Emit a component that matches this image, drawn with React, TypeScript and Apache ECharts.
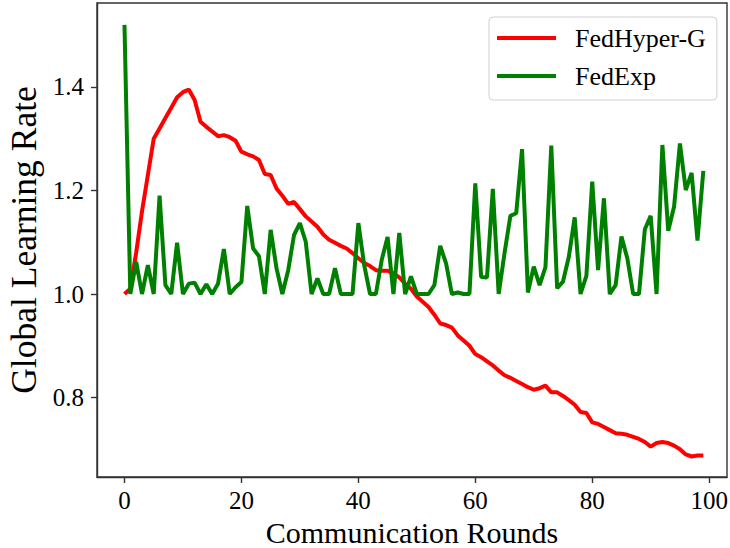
import React, { useEffect, useRef } from "react";
import * as echarts from "echarts";

const fedHyperG: number[] = [
  1.0, 1.01, 1.08, 1.16, 1.23, 1.3, 1.32, 1.34, 1.36, 1.38,
  1.39, 1.395, 1.375, 1.333, 1.323, 1.314, 1.305, 1.307, 1.303, 1.296,
  1.275, 1.27, 1.266, 1.259, 1.232, 1.23, 1.204, 1.19, 1.174, 1.178,
  1.164, 1.15, 1.14, 1.13, 1.115, 1.105, 1.099, 1.093, 1.088, 1.079,
  1.069, 1.06, 1.054, 1.046, 1.045, 1.045, 1.04, 1.032, 1.02, 1.01,
  0.995, 0.985, 0.975, 0.96, 0.943, 0.94, 0.935, 0.92, 0.91, 0.9,
  0.884, 0.878, 0.87, 0.862, 0.852, 0.843, 0.838, 0.832, 0.826, 0.82,
  0.815, 0.818, 0.823, 0.81, 0.81, 0.803, 0.795, 0.786, 0.772, 0.77,
  0.752, 0.749, 0.743, 0.737, 0.731, 0.73, 0.728, 0.724, 0.72, 0.714,
  0.705, 0.712, 0.714, 0.712, 0.707, 0.7, 0.69, 0.686, 0.688, 0.688,
];

const fedExp: number[] = [
  1.52, 1.0, 1.062, 1.0, 1.056, 1.0, 1.19, 1.017, 1.0, 1.099,
  1.0, 1.02, 1.022, 1.0, 1.019, 1.0, 1.02, 1.087, 1.0, 1.013,
  1.023, 1.17, 1.088, 1.073, 1.0, 1.124, 1.05, 1.0, 1.046, 1.114,
  1.137, 1.101, 1.0, 1.03, 1.0, 1.0, 1.05, 1.0, 1.0, 1.0,
  1.137, 1.056, 1.0, 1.0, 1.066, 1.11, 1.0, 1.118, 1.0, 1.034,
  1.0, 1.0, 1.0, 1.017, 1.093, 1.059, 1.0, 1.003, 1.0, 1.0,
  1.214, 1.033, 1.032, 1.203, 1.0, 1.079, 1.151, 1.156, 1.28, 1.003,
  1.053, 1.017, 1.052, 1.287, 1.011, 1.024, 1.072, 1.148, 1.0, 1.035,
  1.217, 1.046, 1.185, 1.0, 1.017, 1.111, 1.069, 1.0, 1.0, 1.125,
  1.151, 1.0, 1.288, 1.122, 1.169, 1.291, 1.201, 1.234, 1.103, 1.238,
];

const xTicks: number[] = [0, 20, 40, 60, 80, 100];
const yTicks: number[] = [0.8, 1.0, 1.2, 1.4];

const seriesNames = ["FedHyper-G", "FedExp"];
const xTitle = "Communication Rounds";
const yTitle = "Global Learning Rate";

const FONT = "Liberation Serif";

const tickRich = {
  t: { fontFamily: FONT, fontSize: 25, color: "#000" },
};

export default function App() {
  const ref = useRef<HTMLDivElement>(null);

  useEffect(() => {
    if (!ref.current) return;
    const chart = echarts.init(ref.current, undefined, { renderer: "svg" });
    const axisColor = "#333";
    chart.setOption({
      animation: false,
      backgroundColor: "#fff",
      textStyle: { fontFamily: FONT },
      grid: {
        left: 97,
        top: 3,
        width: 630,
        height: 474,
        show: true,
        borderColor: axisColor,
        borderWidth: 1.4,
        containLabel: false,
        outerBoundsMode: "none",
      },
      legend: {
        orient: "vertical",
        left: 489,
        top: 17,
        data: seriesNames.map((n) => ({ name: n, icon: "rect" })),
        itemWidth: 59,
        itemHeight: 4,
        itemGap: 8,
        padding: [6, 11, 9, 8],
        borderColor: "#d0d0d0",
        borderWidth: 1,
        borderRadius: 4,
        backgroundColor: "#fff",
        textStyle: {
          fontFamily: FONT,
          fontSize: 26,
          color: "#000",
          lineHeight: 30,
          padding: [0, 0, 0, 14],
        },
      },
      xAxis: {
        type: "value",
        min: -4.7,
        max: 103.05,
        name: xTitle,
        nameLocation: "middle",
        nameGap: 40,
        nameTextStyle: { fontFamily: FONT, fontSize: 30, color: "#000" },
        axisLine: { show: true, onZero: false, lineStyle: { color: axisColor, width: 1.4 } },
        axisTick: {
          show: true,
          length: 6,
          customValues: xTicks,
          lineStyle: { color: axisColor, width: 1.4 },
        },
        axisLabel: {
          customValues: xTicks,
          fontFamily: FONT,
          fontSize: 25,
          color: "#000",
          margin: 11,
          formatter: (v: number) => `{t|${v}}`,
          rich: tickRich,
        },
        splitLine: { show: false },
      },
      yAxis: {
        type: "value",
        min: 0.6464,
        max: 1.5623,
        name: yTitle,
        nameLocation: "middle",
        nameGap: 52,
        nameTextStyle: { fontFamily: FONT, fontSize: 35.5, color: "#000" },
        axisLine: { show: true, onZero: false, lineStyle: { color: axisColor, width: 1.4 } },
        axisTick: {
          show: true,
          length: 6,
          customValues: yTicks,
          lineStyle: { color: axisColor, width: 1.4 },
        },
        axisLabel: {
          customValues: yTicks,
          fontFamily: FONT,
          fontSize: 25,
          color: "#000",
          margin: 13,
          formatter: (v: number) => `{t|${v.toFixed(1)}}`,
          rich: tickRich,
        },
        splitLine: { show: false },
      },
      series: [
        {
          name: seriesNames[0],
          type: "line",
          data: fedHyperG.map((v, i) => [i, v]),
          showSymbol: false,
          symbol: "none",
          lineStyle: { color: "#ff0000", width: 4 },
          itemStyle: { color: "#ff0000" },
          z: 2,
        },
        {
          name: seriesNames[1],
          type: "line",
          data: fedExp.map((v, i) => [i, v]),
          showSymbol: false,
          symbol: "none",
          lineStyle: { color: "#008000", width: 4 },
          itemStyle: { color: "#008000" },
          z: 3,
        },
      ],
    });
    return () => chart.dispose();
  }, []);

  return (
    <div
      ref={ref}
      style={{ position: "absolute", left: 0, top: 0, width: 730, height: 548, background: "#fff" }}
    />
  );
}
